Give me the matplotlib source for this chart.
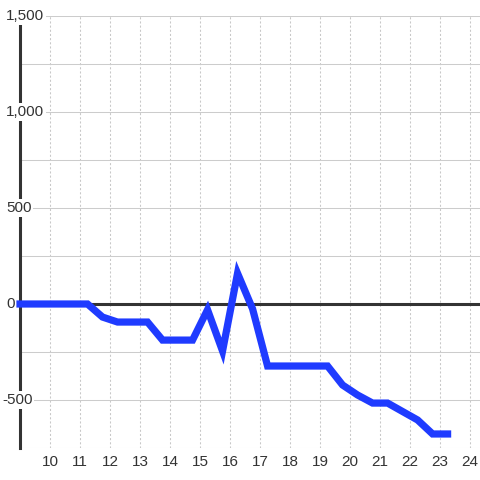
import matplotlib
matplotlib.use("Agg")
import matplotlib.pyplot as plt
from matplotlib.ticker import MultipleLocator
from matplotlib.transforms import blended_transform_factory

plt.rcParams["font.family"] = ["Liberation Sans", "DejaVu Sans"]

# data
x_vals = [9.0, 9.25, 9.75, 10.25, 10.75, 11.25, 11.75, 12.25, 12.75, 13.25,
          13.75, 14.25, 14.75, 15.25, 15.75, 16.25, 16.75, 17.25, 17.75, 18.25,
          18.75, 19.25, 19.75, 20.25, 20.75, 21.25, 21.75, 22.25, 22.75, 23.25]
y_vals = [0, 0, 0, 0, 0, 0, -68, -94, -94, -94,
          -188, -188, -188, -30, -245, 160, -25, -323, -323, -323,
          -323, -323, -422, -474, -516, -516, -560, -604, -677, -677]
x_ticks = list(range(10, 25))
y_major = [-500, 0, 500, 1000, 1500]

fig = plt.figure(figsize=(4.8, 4.8), dpi=100)
ax = fig.add_axes([20 / 480, 1 - 448 / 480, 460 / 480, 432 / 480])

ax.set_xlim(9.0, 24.33)
ax.set_ylim(-750, 1500)

# grid
ax.yaxis.set_major_locator(MultipleLocator(500))
ax.yaxis.set_minor_locator(MultipleLocator(250))
ax.set_xticks(x_ticks)
ax.grid(True, axis="y", which="both", color="#cccccc", linewidth=0.75)
ax.grid(True, axis="x", which="major", color="#c8c8c8", linewidth=0.75,
        linestyle=(0, (2, 2)))
ax.set_axisbelow(True)

for s in ["top", "right", "bottom"]:
    ax.spines[s].set_visible(False)
ax.spines["left"].set_color("#333333")
ax.spines["left"].set_linewidth(2.2)
ax.spines["left"].set_zorder(2.5)

ax.axhline(0, color="#333333", linewidth=2.2, zorder=2.6)

ax.plot(x_vals, y_vals, color="#1f3bff", linewidth=5.2,
        solid_capstyle="projecting", solid_joinstyle="miter",
        clip_on=False, zorder=3)

ax.tick_params(axis="both", which="both", length=0)
ax.set_yticklabels([])
ax.tick_params(axis="x", labelsize=11, labelcolor="#333333", pad=5)
ax.set_xticklabels([str(t) for t in x_ticks])

# y labels sit over the spine with a white box, left aligned
trans = blended_transform_factory(fig.transFigure, ax.transData)
for v in y_major:
    x0 = 2 if v < 0 else 6
    ax.text(x0 / 480, v, f"{v:,}", transform=trans,
            ha="left", va="center", fontsize=11, color="#333333",
            bbox=dict(boxstyle="square,pad=0.12", fc="white", ec="none"),
            zorder=2.8, clip_on=False)

fig.savefig("out.png", dpi=100)
